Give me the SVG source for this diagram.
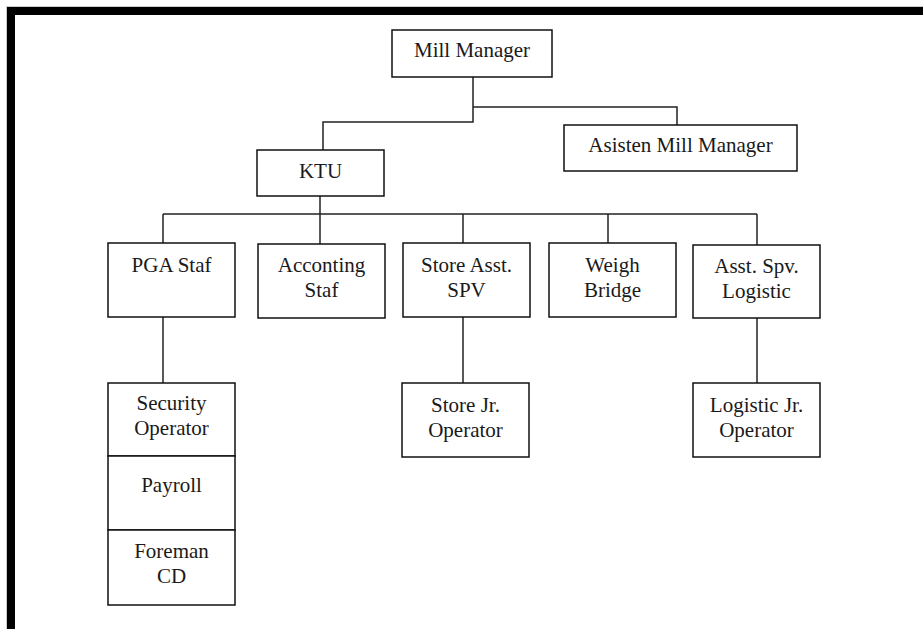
<svg xmlns="http://www.w3.org/2000/svg" width="923" height="629" viewBox="0 0 923 629">
  <style>
    .box { fill: #ffffff; stroke: #111111; stroke-width: 1.5; }
    .lbl { font-size: 21px; fill: #1a1a1a; text-anchor: middle; }
    .wire { fill: none; stroke: #222222; stroke-width: 1.5; }
  </style>

  <!-- page background and heavy frame -->
  <rect x="0" y="0" width="923" height="629" fill="#ffffff"/>
  <path d="M6.5 629 V6.5 H923" fill="none" stroke="#cccccc" stroke-width="1"/>
  <rect x="7" y="7" width="916" height="8" fill="#000000"/>
  <rect x="7" y="7" width="8" height="622" fill="#000000"/>

  <!-- connectors -->
  <g id="connectors" class="wire">
    <path d="M473 77 V122 H323 V150"/>
    <path d="M473 107 H677 V125"/>
    <path d="M320 196 V214"/>
    <path d="M163 214 H757"/>
    <path d="M163 214 V243"/>
    <path d="M320 214 V244"/>
    <path d="M463 214 V243"/>
    <path d="M608 214 V243"/>
    <path d="M757 214 V245"/>
    <path d="M163 317 V383"/>
    <path d="M463 317 V383"/>
    <path d="M757 318 V383"/>
  </g>

  <g id="nodes" font-family="'Liberation Serif', 'Times New Roman', 'DejaVu Serif', serif">
    <g id="mill-manager">
      <rect class="box" x="392" y="30" width="160" height="47"/>
      <text class="lbl" x="472" y="57">Mill Manager</text>
    </g>

    <g id="asisten-mill-manager">
      <rect class="box" x="564" y="125" width="233" height="46"/>
      <text class="lbl" x="680.5" y="152">Asisten Mill Manager</text>
    </g>

    <g id="ktu">
      <rect class="box" x="257" y="150" width="127" height="46"/>
      <text class="lbl" x="320.5" y="178">KTU</text>
    </g>

    <g id="pga-staf">
      <rect class="box" x="108" y="243" width="127" height="74"/>
      <text class="lbl" x="171.5" y="272">PGA Staf</text>
    </g>

    <g id="accounting-staf">
      <rect class="box" x="258" y="244" width="127" height="74"/>
      <text class="lbl" x="321.5" y="272">Acconting</text>
      <text class="lbl" x="321.5" y="297">Staf</text>
    </g>

    <g id="store-asst-spv">
      <rect class="box" x="403" y="243" width="127" height="74"/>
      <text class="lbl" x="466.5" y="272">Store Asst.</text>
      <text class="lbl" x="466.5" y="297">SPV</text>
    </g>

    <g id="weigh-bridge">
      <rect class="box" x="549" y="243" width="127" height="74"/>
      <text class="lbl" x="612.5" y="272">Weigh</text>
      <text class="lbl" x="612.5" y="297">Bridge</text>
    </g>

    <g id="asst-spv-logistic">
      <rect class="box" x="693" y="245" width="127" height="73"/>
      <text class="lbl" x="756.5" y="273">Asst. Spv.</text>
      <text class="lbl" x="756.5" y="298">Logistic</text>
    </g>

    <g id="security-operator">
      <rect class="box" x="108" y="383" width="127" height="73"/>
      <text class="lbl" x="171.5" y="410">Security</text>
      <text class="lbl" x="171.5" y="435">Operator</text>
    </g>

    <g id="payroll">
      <rect class="box" x="108" y="456" width="127" height="74"/>
      <text class="lbl" x="171.5" y="492">Payroll</text>
    </g>

    <g id="foreman-cd">
      <rect class="box" x="108" y="530" width="127" height="75"/>
      <text class="lbl" x="171.5" y="558">Foreman</text>
      <text class="lbl" x="171.5" y="583">CD</text>
    </g>

    <g id="store-jr-operator">
      <rect class="box" x="402" y="383" width="127" height="74"/>
      <text class="lbl" x="465.5" y="412">Store Jr.</text>
      <text class="lbl" x="465.5" y="437">Operator</text>
    </g>

    <g id="logistic-jr-operator">
      <rect class="box" x="693" y="383" width="127" height="74"/>
      <text class="lbl" x="756.5" y="412">Logistic Jr.</text>
      <text class="lbl" x="756.5" y="437">Operator</text>
    </g>
  </g>
</svg>
